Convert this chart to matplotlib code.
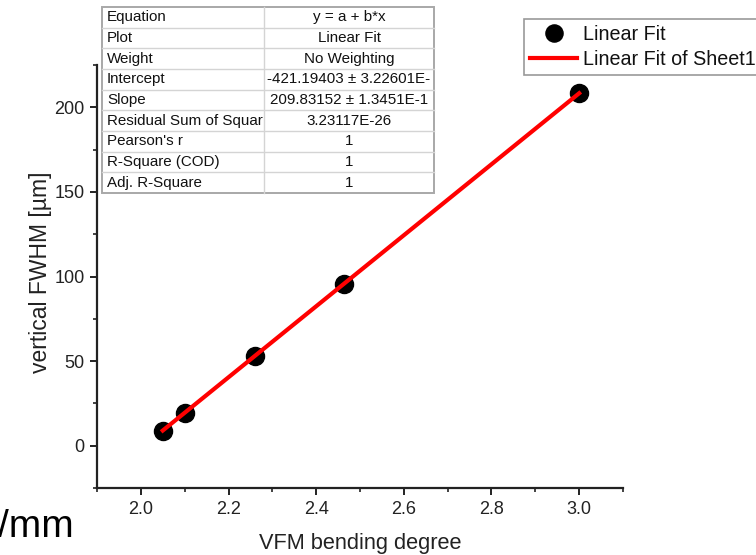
import matplotlib
matplotlib.use("Agg")
import matplotlib.pyplot as plt
from matplotlib.patches import Rectangle
from matplotlib.lines import Line2D
from matplotlib.ticker import MultipleLocator

plt.rcParams['font.family'] = ['Liberation Sans', 'DejaVu Sans']

# Measured points
bending = [2.05, 2.10, 2.26, 2.464, 3.00]
fwhm = [8.96, 19.45, 53.03, 95.83, 208.30]

# Linear fit results
intercept = -421.19403
slope = 209.83152

table_keys = ["Equation", "Plot", "Weight", "Intercept", "Slope",
              "Residual Sum of Squar", "Pearson's r", "R-Square (COD)",
              "Adj. R-Square"]
table_vals = ["y = a + b*x", "Linear Fit", "No Weighting",
              "-421.19403 \u00b1 3.22601E-", "209.83152 \u00b1 1.3451E-1",
              "3.23117E-26", "1", "1", "1"]

W, H = 756, 555
fig = plt.figure(figsize=(W / 100, H / 100), dpi=100)


def fx(x):
    return x / W


def fy(y):
    return 1 - y / H


ax = fig.add_axes([fx(97), fy(488), fx(623) - fx(97), fy(65) - fy(488)])

fit_x = [bending[0], bending[-1]]
fit_y = [intercept + slope * v for v in fit_x]

ax.plot(bending, fwhm, 'o', color='black', markersize=13, zorder=3,
        label='Linear Fit')
ax.plot(fit_x, fit_y, '-', color='#ff0000', linewidth=3, zorder=4,
        label='Linear Fit of Sheet1 B')

ax.set_xlim(1.9, 3.1)
ax.set_ylim(-25, 225)
ax.xaxis.set_major_locator(MultipleLocator(0.2))
ax.xaxis.set_minor_locator(MultipleLocator(0.1))
ax.yaxis.set_major_locator(MultipleLocator(50))
ax.yaxis.set_minor_locator(MultipleLocator(25))
ax.xaxis.set_major_formatter(plt.FormatStrFormatter('%.1f'))

for side in ('top', 'right'):
    ax.spines[side].set_visible(False)
for side in ('left', 'bottom'):
    ax.spines[side].set_linewidth(1.6)
    ax.spines[side].set_color('#222222')

ax.tick_params(which='major', direction='out', length=5, width=1.4,
               color='#222222', labelsize=13, labelcolor='#222222', pad=4)
ax.tick_params(which='minor', direction='out', length=3, width=1.2,
               color='#222222')

fig.text(fx(41), fy(272), 'vertical FWHM [\u00b5m]', rotation=90,
         ha='center', va='center', fontsize=16.5, color='#222222')
fig.text(fx(360), fy(543), 'VFM bending degree', ha='center',
         va='center', fontsize=15.7, color='#222222')

# Legend, running past the right edge
leg = ax.legend(loc='upper left', bbox_to_anchor=(fx(524), fy(19)),
                bbox_transform=fig.transFigure, fontsize=14.2, frameon=True,
                fancybox=False, edgecolor='#999999', framealpha=1,
                borderpad=0.3, labelspacing=0.3, handlelength=2.4,
                handletextpad=0.3, borderaxespad=0, markerscale=0.95)
leg.get_frame().set_linewidth(1.2)
for t in leg.get_texts():
    t.set_color('#111111')

# Fit results table
tl, tr, tt, tb = 102, 434, 7, 193
split = 264
n = len(table_keys)
rh = (tb - tt) / n
for i in range(1, n):
    yy = tt + i * rh
    fig.add_artist(Line2D([fx(tl), fx(tr)], [fy(yy), fy(yy)],
                          transform=fig.transFigure, color='#d4d4d4',
                          linewidth=1.0, zorder=5))
fig.add_artist(Line2D([fx(split), fx(split)], [fy(tt), fy(tb)],
                      transform=fig.transFigure, color='#d4d4d4',
                      linewidth=1.0, zorder=5))
fig.add_artist(Rectangle((fx(tl), fy(tb)), fx(tr) - fx(tl), fy(tt) - fy(tb),
                         transform=fig.transFigure, facecolor='white',
                         edgecolor='#a8a8a8', linewidth=1.4, zorder=4))
for i, (k, v) in enumerate(zip(table_keys, table_vals)):
    yc = tt + (i + 0.5) * rh
    fig.text(fx(tl + 5), fy(yc), k, ha='left', va='center', fontsize=10.9,
             color='#111111', zorder=6)
    fig.text(fx((split + tr) / 2), fy(yc), v, ha='center', va='center',
             fontsize=10.9, color='#111111', zorder=6)

# Unit text at lower left
fig.text(fx(-2), fy(537), '/mm', ha='left', va='baseline', fontsize=28,
         color='black')

fig.savefig('out.png', dpi=100)
